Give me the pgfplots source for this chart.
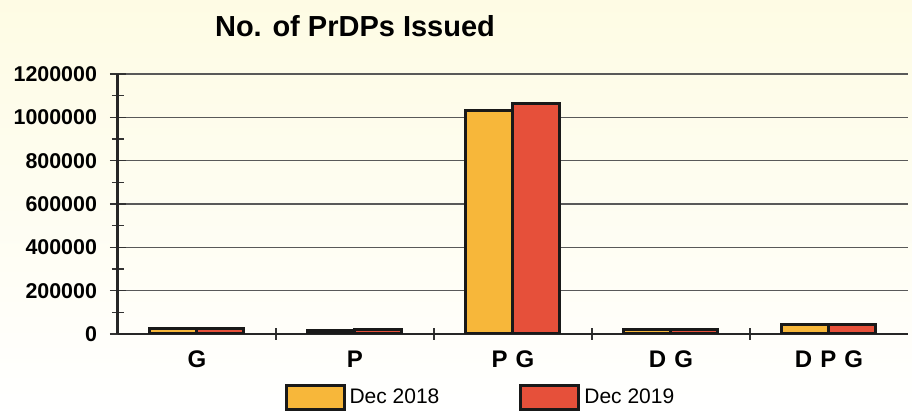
\documentclass[border=0pt]{standalone}
\usepackage{pgfplots}
\pgfplotsset{compat=1.18}
\usepackage{fontspec}
\setmainfont{Liberation Sans}
\definecolor{c18}{HTML}{F7B73A}
\definecolor{c19}{HTML}{E6503A}
\definecolor{bgy}{HTML}{FBF3A4}
\begin{document}
\begin{tikzpicture}
\shade[top color=bgy!30, middle color=bgy, bottom color=white] (0,0) rectangle (456pt,208pt);
\begin{axis}[
  at={(59pt,41pt)}, anchor=south west,
  scale only axis, width=395pt, height=130pt,
  xmin=-0.5, xmax=4.5, ymin=0, ymax=1200000,
  axis lines=left, axis line style={-, black!85},
  y axis line style={line width=1.5pt},
  x axis line style={line width=0.9pt},
  ybar=0pt, bar width=23.5pt,
  xtick={0,1,2,3,4},
  xticklabels={G,P,P\,\,G,D\,\,G,D\,\,P\,\,G},
  major x tick style={draw=none},
  minor xtick={0.5,1.5,2.5,3.5},
  ytick={0,200000,400000,600000,800000,1000000,1200000},
  minor ytick={100000,300000,500000,700000,900000,1100000},
  tick align=center,
  major tick length=8pt, minor tick length=6pt,
  every tick/.style={black!80, line width=0.7pt},
  scaled y ticks=false,
  /pgf/number format/assume math mode=true,
  yticklabel style={/pgf/number format/fixed, /pgf/number format/1000 sep={}, font=\bfseries\fontsize{10.7}{12}\selectfont, xshift=-3pt},
  xticklabel style={font=\bfseries\fontsize{12}{13}\selectfont, yshift=-1pt},
  ymajorgrids, major grid style={black!65, line width=0.7pt},
  title={No. of PrDPs Issued},
  title style={font=\bfseries\fontsize{14.5}{16}\selectfont, at={(0.3,1)}, anchor=south, yshift=9pt},
  legend style={at={(0.46,0)}, anchor=center, yshift=-32pt, draw=none, fill=none,
    legend columns=2, font=\fontsize{10.5}{12}\selectfont,
    /tikz/every even column/.append style={column sep=38pt}},
  legend image code/.code={\draw[#1, line width=1.5pt] (0pt,-6pt) rectangle (29pt,6pt);},
  every axis plot/.append style={draw=black!90, line width=1.5pt},
]
\addplot[fill=c18] coordinates {(0,26000) (1,18000) (2,1030000) (3,22000) (4,42000)};
\addplot[fill=c19] coordinates {(0,27000) (1,19000) (2,1065000) (3,23000) (4,43000)};
\legend{Dec 2018, Dec 2019}
\end{axis}
\end{tikzpicture}
\end{document}
